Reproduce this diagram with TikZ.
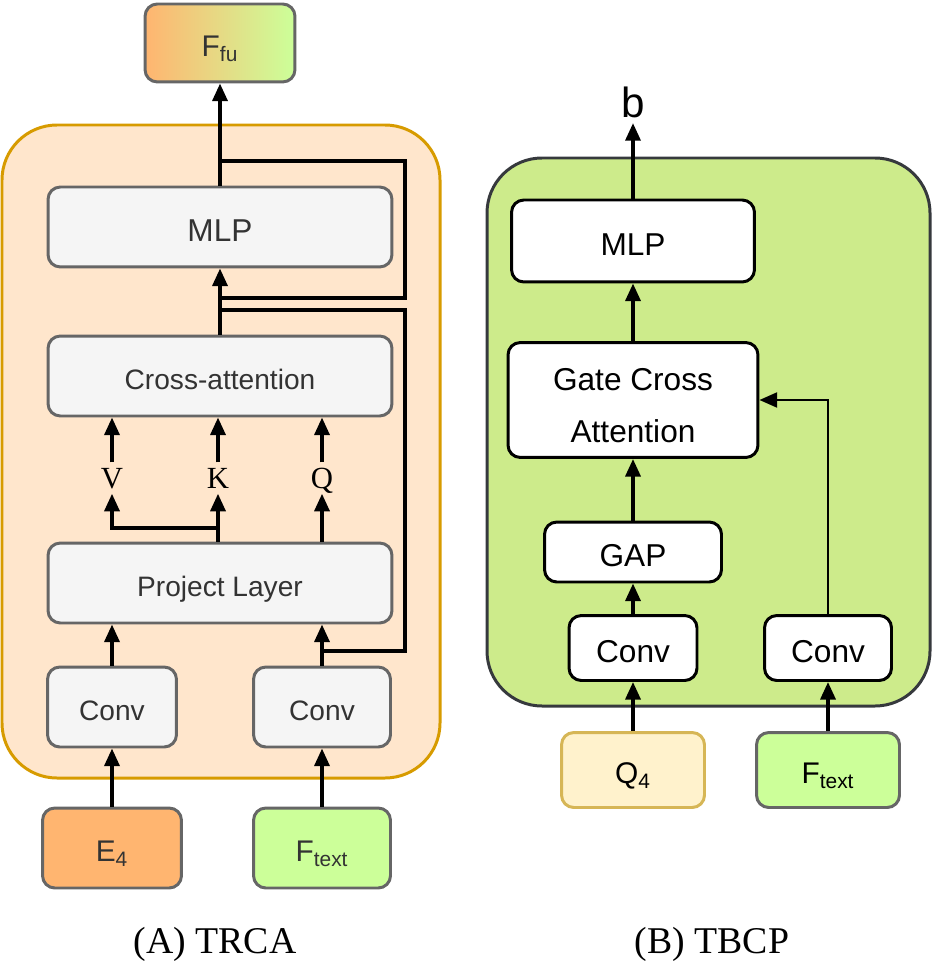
\documentclass[tikz,border=0pt]{standalone}
\usepackage{fontspec}
\setmainfont{Liberation Serif}
\setsansfont{Liberation Sans}
\usetikzlibrary{arrows.meta}
\definecolor{peach}{HTML}{FFE6CC}
\definecolor{amber}{HTML}{D79B00}
\definecolor{boxfill}{HTML}{F5F5F5}
\definecolor{boxline}{HTML}{666666}
\definecolor{inkgray}{HTML}{333333}
\definecolor{orangein}{HTML}{FFB570}
\definecolor{limein}{HTML}{CCFF99}
\definecolor{panelgreen}{HTML}{CDEB8B}
\definecolor{panelline}{HTML}{36393D}
\definecolor{creamin}{HTML}{FFF2CC}
\definecolor{creamline}{HTML}{D6B656}
\begin{document}
\begin{tikzpicture}[x=0.02cm, y=-0.02cm,
    greybox/.style={draw=boxline, fill=boxfill, line width=1.7pt, rounded corners=7pt, inner sep=0pt,
        text=inkgray, text height=15pt, text depth=0pt, font=\sffamily\fontsize{16}{19}\selectfont},
    whitebox/.style={draw=black, fill=white, line width=1.7pt, rounded corners=7pt, inner sep=0pt,
        font=\sffamily\fontsize{18}{30}\selectfont},
    oneline/.style={text height=16.5pt, text depth=0pt},
    inbox/.style={draw=boxline, line width=1.7pt, rounded corners=7pt, inner sep=0pt,
        text=inkgray, text height=15.5pt, text depth=0pt, font=\sffamily\fontsize{17}{20}\selectfont},
    qkv/.style={inner sep=3pt, text height=11.5pt, text depth=0pt, font=\fontsize{17.5}{20}\selectfont},
    arr/.style={-{Triangle[length=10pt,width=8.5pt]}, line width=2pt},
    wire/.style={line width=2pt},
    caption/.style={anchor=base, font=\fontsize{21.5}{26}\selectfont}]
    \useasboundingbox (0,0) rectangle (933,962);
    % (A) TRCA
    \draw[draw=amber, fill=peach, line width=1.7pt, rounded corners=1.1cm] (2,125) rectangle (440,778);
    \node[inbox, left color=orangein, right color=limein, minimum width=3cm, minimum height=1.56cm] (ffu) at (220,43) {F\textsubscript{fu}};
    \node[greybox, minimum width=6.88cm, minimum height=1.6cm, text height=16.5pt, font=\sffamily\fontsize{18}{22}\selectfont] (mlpA) at (220,227) {MLP};
    \node[greybox, minimum width=6.88cm, minimum height=1.6cm] (crossA) at (220,376) {Cross-attention};
    \node[greybox, minimum width=6.88cm, minimum height=1.6cm] (projA) at (220,583) {Project Layer};
    \node[greybox, minimum width=2.58cm, minimum height=1.6cm] (convA1) at (112,707) {Conv};
    \node[greybox, minimum width=2.74cm, minimum height=1.6cm] (convA2) at (322,707) {Conv};
    \node[inbox, fill=orangein, minimum width=2.78cm, minimum height=1.6cm] (e4) at (112,848) {E\textsubscript{4}};
    \node[inbox, fill=limein, minimum width=2.74cm, minimum height=1.6cm] (ftextA) at (322,848) {F\textsubscript{text}};
    \node[qkv] (V) at (112,478) {V};
    \node[qkv] (K) at (218,478) {K};
    \node[qkv] (Q) at (322,478) {Q};
    \draw[arr] (mlpA.north) -- (ffu.south);
    \draw[arr] (crossA.north) -- (mlpA.south);
    \foreach \n in {V,K,Q}
    \draw[arr] (\n.north) -- (\n.north |- crossA.south);
    \draw[arr] (K.south |- projA.north) -- (K.south);
    \draw[arr] (Q.south |- projA.north) -- (Q.south);
    \coordinate (split) at (218,528);
    \draw[arr] (split) -| (V.south);
    \draw[arr] (convA1.north) -- (convA1.north |- projA.south);
    \draw[arr] (convA2.north) -- (convA2.north |- projA.south);
    \draw[arr] (e4.north) -- (convA1.south);
    \draw[arr] (ftextA.north) -- (convA2.south);
    % skip connections
    \coordinate (rail) at (405,0);
    \coordinate (tapmlp) at (220,298);
    \coordinate (outmlp) at (220,161);
    \draw[wire] (tapmlp) -- (tapmlp -| rail) -- (outmlp -| rail) -- (outmlp);
    \coordinate (tapconv) at (322,651);
    \coordinate (inatt) at (220,310);
    \draw[wire] (tapconv) -- (tapconv -| rail) -- (inatt -| rail) -- (inatt);
    \node[caption] (capA) at (215,953) {(A) TRCA};
    % (B) TBCP
    \draw[draw=panelline, fill=panelgreen, line width=1.7pt, rounded corners=1.1cm] (487,158) rectangle (930,706);
    \node[inner sep=3pt, font=\sffamily\fontsize{24}{28}\selectfont] (b) at (633,102) {b};
    \node[whitebox, oneline, minimum width=4.86cm, minimum height=1.64cm] (mlpB) at (633,241) {MLP};
    \node[whitebox, align=center, minimum width=5cm, minimum height=2.3cm] (gateB) at (633,400) {\rule{0pt}{19pt}Gate Cross\\Attention};
    \node[whitebox, oneline, minimum width=3.54cm, minimum height=1.2cm] (gapB) at (633,552) {GAP};
    \node[whitebox, oneline, minimum width=2.56cm, minimum height=1.3cm] (convB1) at (633,648) {Conv};
    \node[whitebox, oneline, minimum width=2.54cm, minimum height=1.3cm] (convB2) at (828,648) {Conv};
    \node[inbox, draw=creamline, fill=creamin, text=black, minimum width=2.86cm, minimum height=1.5cm] (q4) at (633,770) {Q\textsubscript{4}};
    \node[inbox, fill=limein, text=black, minimum width=2.86cm, minimum height=1.5cm] (ftextB) at (828,770) {F\textsubscript{text}};
    \draw[arr] (mlpB.north) -- (b.south);
    \draw[arr] (gateB.north) -- (mlpB.south);
    \draw[arr] (gapB.north) -- (gateB.south);
    \draw[arr] (convB1.north) -- (gapB.south);
    \draw[arr] (q4.north) -- (convB1.south);
    \draw[arr] (ftextB.north) -- (convB2.south);
    \draw[arr, line width=1.2pt] (convB2.north) |- (gateB.east);
    \node[caption] (capB) at (712,953) {(B) TBCP};
\end{tikzpicture}
\end{document}
